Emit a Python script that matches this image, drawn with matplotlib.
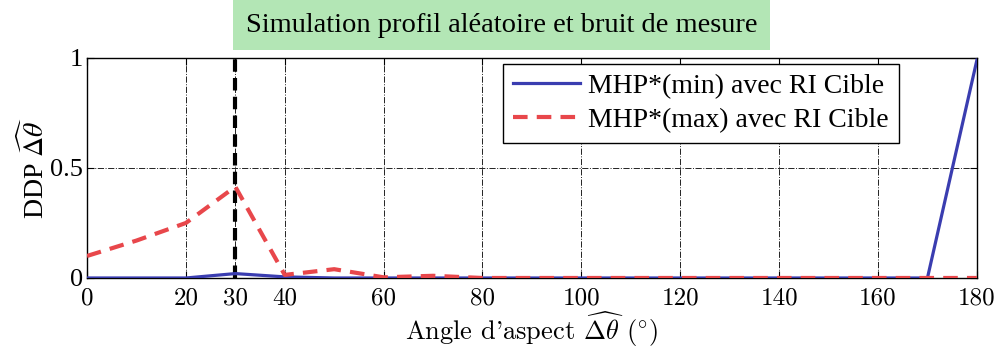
import numpy as np
import matplotlib
matplotlib.use("Agg")
import matplotlib.pyplot as plt
from matplotlib.patches import Rectangle

plt.rcParams['font.family'] = ['Liberation Serif', 'DejaVu Serif']
plt.rcParams['mathtext.fontset'] = 'cm'
plt.rcParams['axes.formatter.use_mathtext'] = True

# angle grid and the two density estimates
angles = [0, 10, 20, 30, 40, 50, 60, 70, 80, 90, 100, 110, 120, 130, 140, 150, 160, 170, 180]
ddp_min = [0, 0, 0, 0.02, 0.005, 0, 0, 0, 0, 0, 0, 0, 0, 0, 0, 0, 0, 0, 0.99]
ddp_max = [0.10, 0.17, 0.25, 0.415, 0.014, 0.04, 0.003, 0.01, 0, 0, 0, 0, 0, 0, 0, 0, 0, 0, 0]
xticks = [0, 20, 30, 40, 60, 80, 100, 120, 140, 160, 180]
yticks = [0, 0.5, 1]
true_angle = 30

cm_font = ['cmr10', 'DejaVu Serif']

fig = plt.figure(figsize=(10.01, 3.58), dpi=100)
ax = fig.add_axes([0.0869, 0.2235, 0.889, 0.6145])

ax.plot(angles, ddp_min, color='#3a3db0', lw=2.3, label='MHP*(min) avec RI Cible', zorder=3)
ax.plot(angles, ddp_max, color='#e8474b', lw=3.0, ls=(0, (3.5, 2.2)),
        label='MHP*(max) avec RI Cible', zorder=4)
ax.axvline(true_angle, color='black', lw=3.0, ls=(0, (3, 1.5)), zorder=2)

ax.set_xlim(0, 180)
ax.set_ylim(0, 1)
ax.set_xticks(xticks)
ax.set_xticklabels([str(v) for v in xticks], family=cm_font, fontsize=18)
ax.set_yticks(yticks)
ax.set_yticklabels(['0', '0.5', '1'], fontsize=19)
ax.grid(True, color='#222222', ls='-.', lw=0.7)
ax.tick_params(direction='in', top=True, right=True, length=5)
ax.tick_params(axis='x', pad=7)
ax.tick_params(axis='y', pad=3)
for s in ax.spines.values():
    s.set_linewidth(1.0)

ax.set_xlabel("Angle d'aspect $\\widehat{\\Delta\\theta}$ $(^{\\circ})$",
              family=cm_font, fontsize=19, labelpad=0)
ax.set_ylabel(r"DDP $\widehat{\Delta\theta}$", fontsize=20, labelpad=0, math_fontfamily='stix')

leg = ax.legend(loc='upper right', bbox_to_anchor=(0.912, 0.973), fontsize=20,
                frameon=True, fancybox=False, edgecolor='black', framealpha=1,
                handlelength=2.4, borderpad=0.35, labelspacing=0.3, handletextpad=0.3,
                borderaxespad=0)
leg.get_frame().set_linewidth(1.0)

# title in a green box
fig.patches.append(Rectangle((233 / 1001, 1 - 50 / 358), 537 / 1001, 50 / 358,
                             transform=fig.transFigure, facecolor='#b3e6b5',
                             edgecolor='none', zorder=0))
fig.text(0.501, 1 - 25 / 358, 'Simulation profil aléatoire et bruit de mesure', fontsize=20.5,
         ha='center', va='center')

fig.savefig('out.png', dpi=100)
